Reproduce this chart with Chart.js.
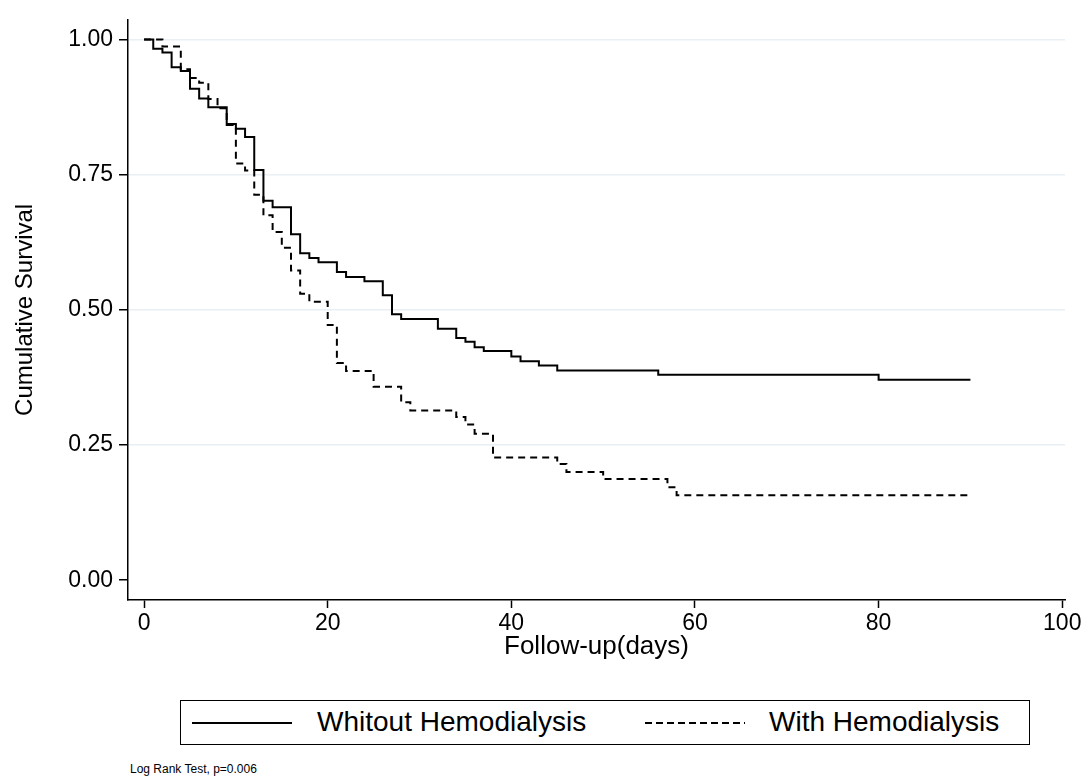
<!DOCTYPE html>
<html>
<head>
<meta charset="utf-8">
<script src="https://cdn.jsdelivr.net/npm/chart.js@4/dist/chart.umd.min.js"></script>
<style>
  body { margin: 0; background: #fff; font-family: "Liberation Sans", Arial, sans-serif; }
  #wrap { position: relative; width: 1089px; height: 776px; }
  #legend {
    position: absolute; left: 180px; top: 700px; width: 848px; height: 43px;
    border: 1.5px solid #000; font-size: 28px; color: #000;
  }
  #legend .sample { position: absolute; top: 21px; width: 100px; height: 2px; }
  #legend .solid { left: 11px; background: #000; }
  #legend .dashed { left: 464px; background: repeating-linear-gradient(to right, #000 0 7px, transparent 7px 11px); }
  #legend .txt { position: absolute; top: 5px; line-height: 32px; white-space: nowrap; }
  #note { position: absolute; left: 130px; top: 762px; font-size: 12px; color: #000; }
</style>
</head>
<body>
<div id="wrap">
  <canvas id="km" width="1089" height="670"></canvas>
  <div id="legend">
    <div class="sample solid"></div><div class="txt" style="left:136px">Whitout Hemodialysis</div>
    <div class="sample dashed"></div><div class="txt" style="left:588px">With Hemodialysis</div>
  </div>
  <div id="note">Log Rank Test, p=0.006</div>
</div>
<script>
// Kaplan-Meier steps
const withoutDays = [0, 1, 2, 3, 4, 5, 6, 7, 9, 10, 11, 12, 13, 14, 16, 17, 18, 19, 21, 22, 24, 26, 27, 28, 32, 34, 35, 36, 37, 40, 41, 43, 45, 56, 80, 90];
const withoutSurv = [1, 0.983, 0.976, 0.949, 0.942, 0.909, 0.891, 0.875, 0.844, 0.835, 0.820, 0.759, 0.702, 0.690, 0.640, 0.605, 0.596, 0.588, 0.570, 0.561, 0.553, 0.527, 0.492, 0.483, 0.465, 0.448, 0.441, 0.431, 0.424, 0.414, 0.405, 0.397, 0.388, 0.380, 0.371, 0.371];

const withDays = [0, 2, 4, 5, 6, 7, 8, 9, 10, 11, 12, 13, 14, 15, 16, 17, 18, 20, 21, 22, 25, 28, 29, 34, 35, 36, 38, 45, 46, 50, 57, 58, 90];
const withSurv = [1, 0.987, 0.945, 0.929, 0.920, 0.890, 0.873, 0.842, 0.771, 0.758, 0.713, 0.675, 0.644, 0.615, 0.573, 0.530, 0.515, 0.472, 0.402, 0.387, 0.358, 0.329, 0.314, 0.302, 0.288, 0.271, 0.227, 0.215, 0.200, 0.187, 0.172, 0.157, 0.157];

const xTicks = [0, 20, 40, 60, 80, 100];
const yTicks = [0, 0.25, 0.5, 0.75, 1];

const toPoints = (xs, ys) => xs.map((x, i) => ({ x: x, y: ys[i] }));

const family = "'Liberation Sans', Arial, sans-serif";
const tickFont = { family: family, size: 23 };

new Chart(document.getElementById("km"), {
  type: "line",
  data: {
    datasets: [
      {
        label: "Whitout Hemodialysis",
        data: toPoints(withoutDays, withoutSurv),
        borderColor: "#000",
        borderWidth: 2,
        stepped: true,
        pointRadius: 0,
      },
      {
        label: "With Hemodialysis",
        data: toPoints(withDays, withSurv),
        borderColor: "#000",
        borderWidth: 2,
        borderDash: [7, 5],
        stepped: true,
        pointRadius: 0,
      },
    ],
  },
  options: {
    responsive: false,
    animation: false,
    layout: { padding: { top: 13, right: 24, left: 0, bottom: 0 } },
    plugins: { legend: { display: false }, tooltip: { enabled: false } },
    scales: {
      x: {
        type: "linear",
        min: -1.75,
        max: 100.3,
        afterBuildTicks: (s) => { s.ticks = xTicks.map((v) => ({ value: v })); },
        afterFit: (s) => { s.height = 70; },
        ticks: { color: "#000", font: tickFont, padding: 2, maxRotation: 0 },
        grid: { drawOnChartArea: false, tickColor: "#000", tickLength: 8, tickWidth: 1.5 },
        border: { color: "#000", width: 1.5 },
        title: { display: true, text: "Follow-up(days)", color: "#000", font: { family: family, size: 26 }, padding: { top: 0, bottom: 8 } },
      },
      y: {
        min: -0.0366,
        max: 1.0366,
        afterBuildTicks: (s) => { s.ticks = yTicks.map((v) => ({ value: v })); },
        afterFit: (s) => { s.width = 128; },
        ticks: { color: "#000", font: tickFont, padding: 6, callback: (v) => v.toFixed(2) },
        grid: {
          color: (c) => (c.tick && c.tick.value === 0 ? "rgba(0,0,0,0)" : "#e9eff3"),
          lineWidth: 1.5,
          tickColor: "#000",
          tickLength: 9,
          tickWidth: 1.5,
        },
        border: { color: "#000", width: 1.5 },
        title: { display: true, text: "Cumulative Survival", color: "#000", font: { family: family, size: 24 }, padding: { top: 11, bottom: 0 } },
      },
    },
  },
});
</script>
</body>
</html>
